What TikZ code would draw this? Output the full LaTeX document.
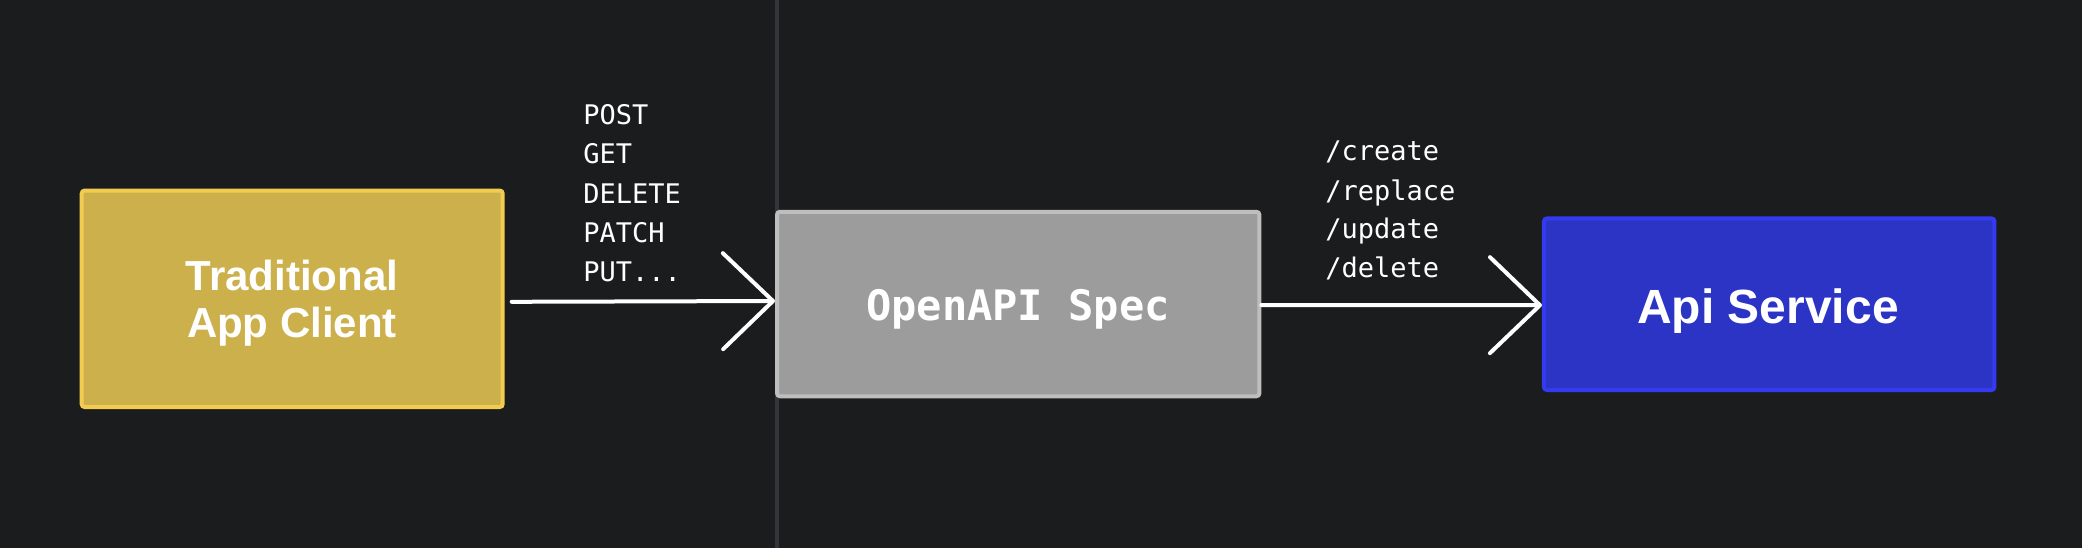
\documentclass[tikz,border=0pt]{standalone}
\usepackage{fontspec}
\usetikzlibrary{arrows.meta}
\newfontfamily\boxsans{Liberation Sans}
\newfontfamily\monofam{DejaVu Sans Mono}
\definecolor{bgc}{RGB}{27,28,30}
\definecolor{divc}{RGB}{52,53,56}
\definecolor{yfill}{RGB}{204,176,75}
\definecolor{ydraw}{RGB}{242,204,80}
\definecolor{gfill}{RGB}{156,156,156}
\definecolor{gdraw}{RGB}{190,190,190}
\definecolor{bfill}{RGB}{44,52,198}
\definecolor{bdraw}{RGB}{51,58,240}
\tikzset{
  boxnode/.style={rectangle, line width=2pt, rounded corners=1.5pt, inner sep=0pt},
  sanslbl/.style={text=white, inner sep=0pt, font=\boxsans\bfseries},
  monolbl/.style={text=white, inner sep=0pt, anchor=base west, font=\monofam\fontsize{13.5}{16}\selectfont},
  arr/.style={draw=white, line width=2pt, line cap=round, -{Straight Barb[length=25pt,width=48pt,round]}}
}
\begin{document}
\begin{tikzpicture}[x=0.5pt,y=-0.5pt]
\fill[bgc] (0,0) rectangle (2082,548);
\useasboundingbox (0,0) rectangle (2082,548);
\coordinate (dtop) at (777,0);
\coordinate (dbot) at (777,548);
\draw[divc, line width=2pt] (dtop) -- (dbot);
\node[boxnode, fill=yfill, draw=ydraw, minimum width=210.5pt, minimum height=108.25pt] (yb) at (292.2,298.8) {};
\node[boxnode, fill=gfill, draw=gdraw, minimum width=241.2pt, minimum height=92.25pt] (gb) at (1018.2,304) {};
\node[boxnode, fill=bfill, draw=bdraw, minimum width=225.25pt, minimum height=85.8pt] (bb) at (1769.2,304.2) {};
\node[sanslbl, anchor=base, font=\boxsans\bfseries\fontsize{21}{24}\selectfont] (yt1) at (292,290) {Traditional};
\node[sanslbl, anchor=base, font=\boxsans\bfseries\fontsize{21}{24}\selectfont] (yt2) at (292,337) {App Client};
\node[text=white, inner sep=0pt, anchor=base, font=\monofam\bfseries\fontsize{21}{24}\selectfont] (gt) at (1018,320) {OpenAPI Spec};
\node[sanslbl, anchor=base, font=\boxsans\bfseries\fontsize{24}{28}\selectfont] (bt) at (1768,323) {Api Service};
\node[monolbl] (m1) at (583,124) {POST};
\node[monolbl] (m2) at (583,163) {GET};
\node[monolbl] (m3) at (583,203) {DELETE};
\node[monolbl] (m4) at (583,242) {PATCH};
\node[monolbl] (m5) at (583,281) {PUT...};
\node[monolbl] (r1) at (1325,160) {/create};
\node[monolbl] (r2) at (1325,200) {/replace};
\node[monolbl] (r3) at (1325,238) {/update};
\node[monolbl] (r4) at (1325,277) {/delete};
\draw[arr] ([xshift=3.5pt,yshift=-1.5pt]yb.east) -- ([yshift=1.5pt]gb.west);
\draw[arr] ([yshift=-0.5pt]gb.east) -- ([yshift=-0.5pt]bb.west);
\end{tikzpicture}
\end{document}
